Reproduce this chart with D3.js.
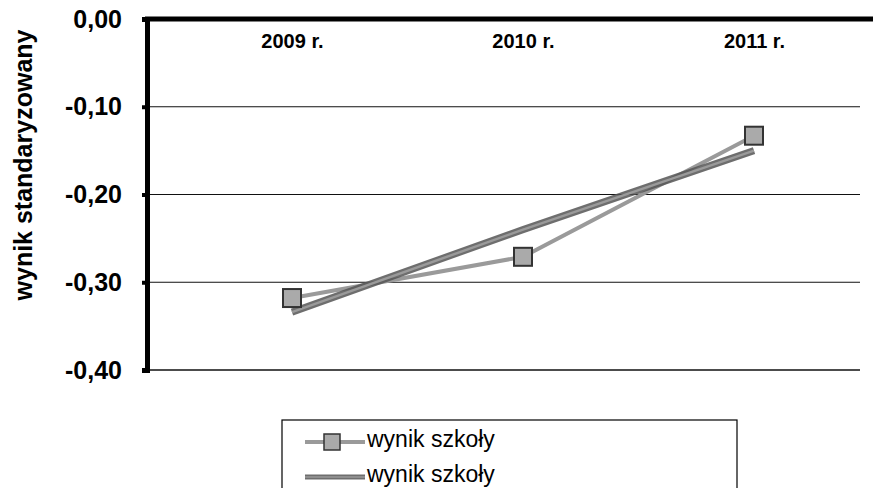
<!DOCTYPE html>
<html><head><meta charset="utf-8">
<script src="https://cdnjs.cloudflare.com/ajax/libs/d3/7.8.5/d3.min.js"></script>
<style>body{margin:0;background:#fff}svg{display:block}</style>
</head><body>
<svg id="c" width="873" height="488"></svg>
<script>
const categories = ["2009 r.", "2010 r.", "2011 r."];
const series1 = [-0.318, -0.271, -0.133];
const series2 = [-0.334, -0.240, -0.150];
const seriesNames = ["wynik szkoły", "wynik szkoły"];
const yTicks = [0, -0.1, -0.2, -0.3, -0.4];
const yTitle = "wynik standaryzowany";

(function () {
const svg = d3.select("#c");
const font = "'Liberation Sans', Arial, sans-serif";
const pLeft = 147, pRight = 860, pTop = 19, pBottom = 370;

const y = d3.scaleLinear().domain([-0.4, 0]).range([pBottom, pTop]);
const x = d3.scalePoint().domain(categories).range([292, 754]);
const fmt = v => d3.format(".2f")(v).replace(".", ",").replace("−", "-");

// gridlines
svg.append("g").selectAll("line").data(yTicks.filter(v => v < 0)).join("line")
  .attr("x1", pLeft).attr("x2", pRight).attr("y1", d => y(d)).attr("y2", d => y(d))
  .attr("stroke", "#111").attr("stroke-width", d => d === -0.4 ? 1.6 : 1.2);

// y axis
const yAxis = d3.axisLeft(y).tickValues(yTicks).tickFormat(fmt).tickSize(5).tickPadding(20);
const gy = svg.append("g").attr("transform", `translate(${pLeft},0)`).call(yAxis);
gy.select(".domain").attr("stroke", "#000").attr("stroke-width", 5);
gy.selectAll(".tick line").attr("stroke", "#000").attr("stroke-width", 4);
gy.selectAll("text").attr("font-family", font).attr("font-weight", "bold")
  .attr("font-size", 25).attr("fill", "#000");

// top category axis (value 0)
const xAxis = d3.axisBottom(x).tickSize(0).tickPadding(15);
const gx = svg.append("g").attr("transform", `translate(0,${y(0)})`).call(xAxis);
gx.select(".domain").remove();
svg.append("line").attr("x1", pLeft - 2).attr("x2", 873).attr("y1", y(0)).attr("y2", y(0))
  .attr("stroke", "#000").attr("stroke-width", 5);
gx.selectAll("text").attr("font-family", font).attr("font-weight", "bold")
  .attr("font-size", 20).attr("fill", "#000");

// lines
const line = d3.line().x((d, i) => x(categories[i])).y(d => y(d));
svg.append("path").datum(series1).attr("d", line).attr("fill", "none")
  .attr("stroke", "#9a9a9a").attr("stroke-width", 4);
svg.append("path").datum(series2).attr("d", line).attr("fill", "none")
  .attr("stroke", "#555").attr("stroke-width", 7).attr("stroke-opacity", 0.85);
svg.append("path").datum(series2).attr("d", line).attr("fill", "none")
  .attr("stroke", "#9a9a9a").attr("stroke-width", 2.5);

// markers series1
svg.append("g").selectAll("rect").data(series1).join("rect")
  .attr("x", (d, i) => x(categories[i]) - 9).attr("y", d => y(d) - 9)
  .attr("width", 18).attr("height", 18)
  .attr("fill", "#aaa").attr("stroke", "#333").attr("stroke-width", 2);

// legend
const lg = svg.append("g");
lg.append("rect").attr("x", 282).attr("y", 420).attr("width", 455).attr("height", 80)
  .attr("fill", "#fff").attr("stroke", "#000").attr("stroke-width", 1.2);
seriesNames.forEach((name, i) => {
  const yy = 442 + i * 35;
  if (i === 0) {
    lg.append("line").attr("x1", 305).attr("x2", 365).attr("y1", yy).attr("y2", yy)
      .attr("stroke", "#9a9a9a").attr("stroke-width", 4);
    lg.append("rect").attr("x", 324).attr("y", yy - 8).attr("width", 16).attr("height", 16)
      .attr("fill", "#aaa").attr("stroke", "#333").attr("stroke-width", 1.5);
  } else {
    lg.append("line").attr("x1", 305).attr("x2", 365).attr("y1", yy).attr("y2", yy)
      .attr("stroke", "#555").attr("stroke-width", 5).attr("stroke-opacity", 0.85);
    lg.append("line").attr("x1", 305).attr("x2", 365).attr("y1", yy).attr("y2", yy)
      .attr("stroke", "#9a9a9a").attr("stroke-width", 1.5);
  }
  lg.append("text").attr("x", 367).attr("y", yy + 5).text(name)
    .attr("font-family", font).attr("font-size", 23).attr("fill", "#000");
});

// y title
svg.append("text").attr("transform", `translate(32,165) rotate(-90)`)
  .attr("text-anchor", "middle").text(yTitle)
  .attr("font-family", font).attr("font-weight", "bold").attr("font-size", 25).attr("fill", "#000");
})();
</script>
</body></html>
